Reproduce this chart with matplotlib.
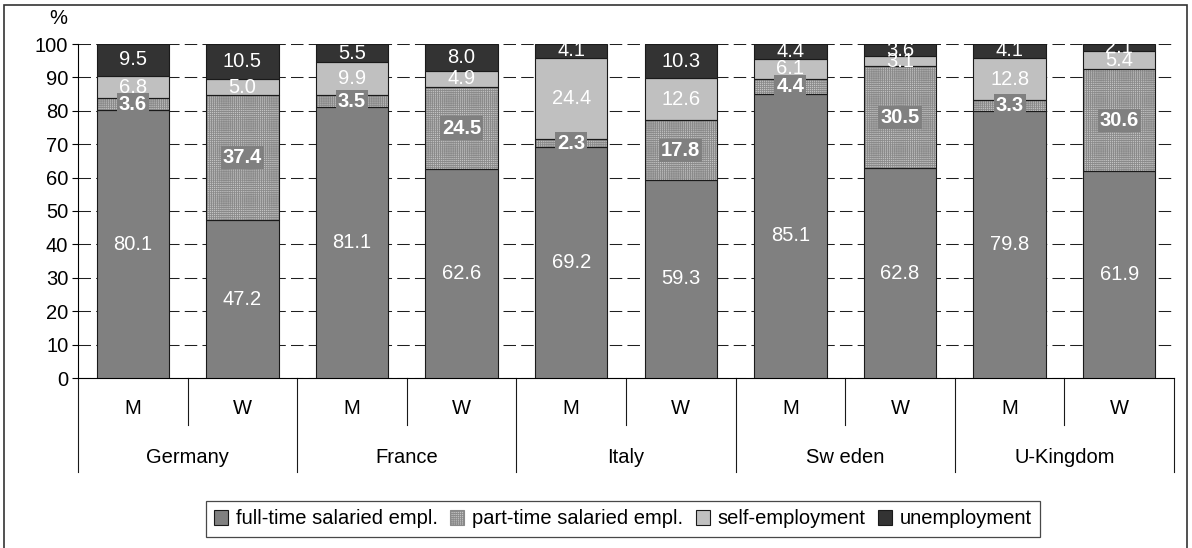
import numpy as np
import matplotlib.pyplot as plt
from matplotlib.patches import Rectangle, Patch
from matplotlib import transforms

plt.rcParams['font.family'] = ['Liberation Sans', 'DejaVu Sans']
plt.rcParams['hatch.linewidth'] = 0.6

# Employment structure by country and sex (%)
countries = ['Germany', 'France', 'Italy', 'Sw eden', 'U-Kingdom']
sexes = ['M', 'W']
full_time = [80.1, 47.2, 81.1, 62.6, 69.2, 59.3, 85.1, 62.8, 79.8, 61.9]
part_time = [3.6, 37.4, 3.5, 24.5, 2.3, 17.8, 4.4, 30.5, 3.3, 30.6]
self_empl = [6.8, 5.0, 9.9, 4.9, 24.4, 12.6, 6.1, 3.1, 12.8, 5.4]
unempl = [9.5, 10.5, 5.5, 8.0, 4.1, 10.3, 4.4, 3.6, 4.1, 2.1]

series_names = ['full-time salaried empl.', 'part-time salaried empl.',
                'self-employment', 'unemployment']

fig = plt.figure(figsize=(11.92, 5.48), dpi=100)
ax = fig.add_axes([78 / 1192, 1 - 378 / 548, (1174 - 78) / 1192, 334 / 548])

x = np.arange(len(full_time))
width = 0.66
edge = '#1a1a1a'

b1 = np.zeros(len(x))
b2 = b1 + np.array(full_time)
b3 = b2 + np.array(part_time)
b4 = b3 + np.array(self_empl)

ax.bar(x, full_time, width, bottom=b1, color='#808080', edgecolor=edge, linewidth=0.8, zorder=3)
# hatch takes the edge colour, so the dark outline goes on a separate unfilled bar
ax.bar(x, part_time, width, bottom=b2, color='#c4c4c4', edgecolor='#8a8a8a', linewidth=0,
       hatch='++++++++', zorder=3)
ax.bar(x, part_time, width, bottom=b2, fill=False, edgecolor=edge, linewidth=0.8, zorder=3.5)
ax.bar(x, self_empl, width, bottom=b3, color='#c0c0c0', edgecolor=edge, linewidth=0.8, zorder=3)
ax.bar(x, unempl, width, bottom=b4, color='#333333', edgecolor=edge, linewidth=0.8, zorder=3)

fs = 14.5
for i in x:
    ax.text(i, b1[i] + full_time[i] / 2, f'{full_time[i]:.1f}', ha='center', va='center',
            color='white', fontsize=fs, zorder=5, clip_on=True)
    ax.text(i, b2[i] + part_time[i] / 2, f'{part_time[i]:.1f}', ha='center', va='center',
            color='white', fontsize=fs, fontweight='bold', zorder=6, clip_on=True,
            bbox=dict(boxstyle='square,pad=0.1', facecolor='#808080', edgecolor='none'))
    ax.text(i, b3[i] + self_empl[i] / 2, f'{self_empl[i]:.1f}', ha='center', va='center',
            color='white', fontsize=fs, zorder=5, clip_on=True)
    ax.text(i, b4[i] + unempl[i] / 2, f'{unempl[i]:.1f}', ha='center', va='center',
            color='white', fontsize=fs, zorder=5, clip_on=True)

ax.set_ylim(0, 100)
ax.set_xlim(-0.5, len(x) - 0.5)
ax.set_yticks(np.arange(0, 101, 10))
ax.tick_params(axis='y', labelsize=fs, length=4, width=0.8, pad=3)
ax.set_xticks([])
ax.yaxis.grid(True, color='#202020', linestyle=(0, (12, 5)), linewidth=0.75, zorder=0)
ax.set_axisbelow(True)
for side in ['top', 'right']:
    ax.spines[side].set_visible(False)
ax.spines['left'].set_linewidth(0.8)
ax.spines['bottom'].set_linewidth(0.8)

# two-level category axis
trans = transforms.blended_transform_factory(ax.transData, ax.transAxes)
for k in range(len(x) + 1):
    pos = k - 0.5
    y_end = -0.141 if k % 2 == 1 else -0.281
    ax.plot([pos, pos], [0, y_end], color='#1a1a1a', linewidth=0.8,
            transform=trans, clip_on=False)
for i in x:
    ax.text(i, -0.09, sexes[i % 2], transform=trans, ha='center', va='center', fontsize=fs)
for c, name in enumerate(countries):
    ax.text(2 * c + 0.5, -0.237, name, transform=trans, ha='center', va='center', fontsize=fs)

fig.text(58 / 1192, 1 - 19 / 548, '%', ha='center', va='center', fontsize=fs)

handles = [Patch(facecolor='#808080', edgecolor=edge, linewidth=0.8),
           Patch(facecolor='#c4c4c4', edgecolor='#8a8a8a', hatch='++++++++', linewidth=0.8),
           Patch(facecolor='#c0c0c0', edgecolor=edge, linewidth=0.8),
           Patch(facecolor='#333333', edgecolor=edge, linewidth=0.8)]
leg = fig.legend(handles, series_names, loc='center', ncol=4,
                 bbox_to_anchor=(623 / 1192, 1 - 519 / 548), fontsize=fs,
                 frameon=True, fancybox=False, edgecolor='#1a1a1a',
                 handlelength=0.7, handleheight=0.7, handletextpad=0.4,
                 columnspacing=0.6, borderpad=0.4, borderaxespad=0)
leg.get_frame().set_linewidth(0.9)

# outer chart border
fig.patches.append(Rectangle((4 / 1192, -0.01), 1183 / 1192, 1 - 4.5 / 548 + 0.01,
                             transform=fig.transFigure, fill=False,
                             edgecolor='#333333', linewidth=1.2))

fig.savefig('out.png', dpi=100)
